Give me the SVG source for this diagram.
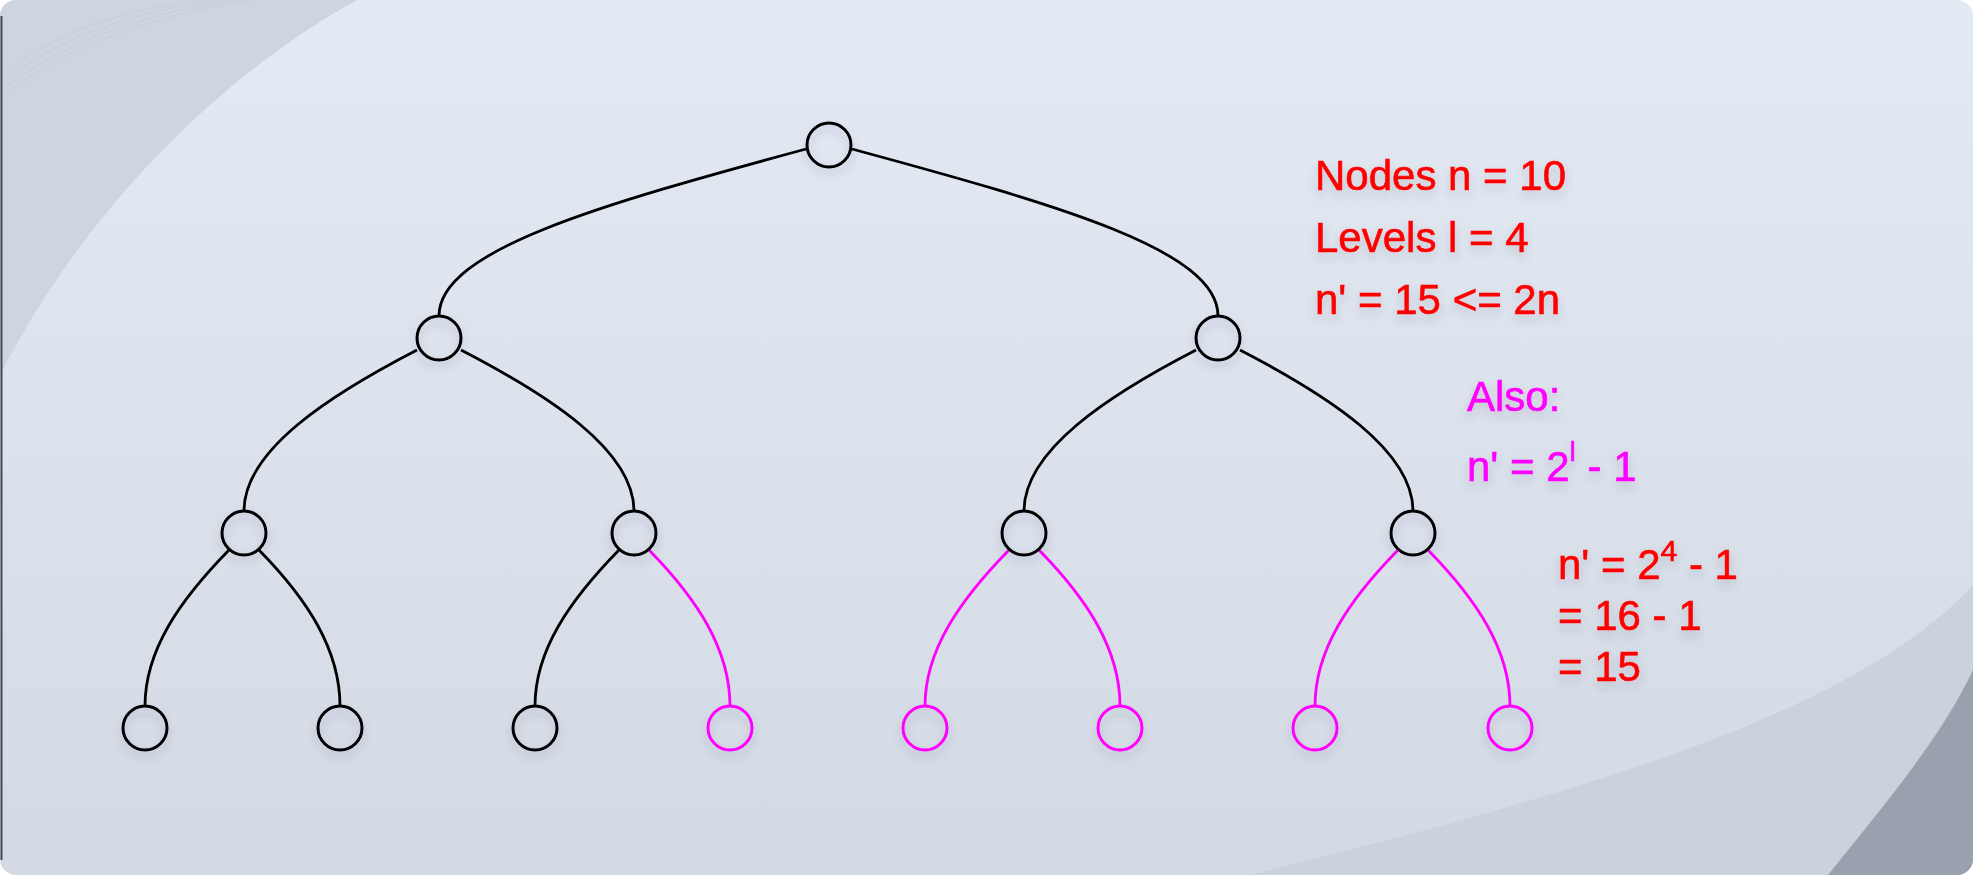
<svg xmlns="http://www.w3.org/2000/svg" width="1973" height="875" viewBox="0 0 1973 875">
<defs>
<linearGradient id="bg" x1="0" y1="0" x2="0" y2="1">
<stop offset="0" stop-color="#e4eaf4"/>
<stop offset="1" stop-color="#d4dae4"/>
</linearGradient>
<clipPath id="card"><rect x="0" y="0" width="1973" height="875" rx="16" ry="16"/></clipPath>
<filter id="sh" x="-20%" y="-20%" width="140%" height="160%">
<feDropShadow dx="0" dy="5" stdDeviation="5" flood-color="#334" flood-opacity="0.2"/>
</filter>
</defs>
<style>
.e{fill:none;stroke:#000;stroke-width:2.8}
.m{stroke:#ff00ff}
.n{fill:none;stroke:#000;stroke-width:3}
.nm{fill:none;stroke:#ff00ff;stroke-width:3}
.t{font-family:"Liberation Sans",Arial,sans-serif;font-size:42px;stroke-width:0.6}
.red{fill:#ff0000;stroke:#ff0000}
.mag{fill:#ff00ff;stroke:#ff00ff}
</style>
<rect width="1973" height="875" fill="#ffffff"/>
<g id="background" clip-path="url(#card)">
<rect x="0" y="0" width="1973" height="875" fill="url(#bg)"/>
<path d="M357,0 C230,70 90,200 0,375 L0,0 Z" fill="#cfd5df"/>
<g fill="none" stroke="#c4cbd6" stroke-width="1" opacity="0.7">
<path d="M5,95 C60,50 150,15 250,0"/>
<path d="M5,88 C60,45 145,12 235,0"/>
<path d="M5,80 C55,40 135,10 220,0"/>
<path d="M5,72 C50,35 125,8 205,0"/>
</g>
<path d="M1250,875 C1550,800 1850,720 1973,585 L1973,875 Z" fill="#cbd2dc"/>
<path d="M1828,875 C1880,810 1940,740 1973,670 L1973,875 Z" fill="#9aa0ad"/>
<path d="M1.5,16 L1.5,860" stroke="#444a55" stroke-width="2"/>
</g>
<g id="connectors">
<path class="e" d="M806,149 C600,205 439,250 439,316"/>
<path class="e" d="M852,149 C1058,205 1218,250 1218,316"/>
<path class="e" d="M417,350 C330,395 244,450 244,511"/>
<path class="e" d="M461,350 C548,395 634,450 634,511"/>
<path class="e" d="M1196,350 C1109,395 1024,450 1024,511"/>
<path class="e" d="M1240,350 C1327,395 1413,450 1413,511"/>
<path class="e" d="M229,550 C180,600 145,650 145,706"/>
<path class="e" d="M259,550 C308,600 340,650 340,706"/>
<path class="e" d="M619,550 C570,600 535,650 535,706"/>
<path class="e m" d="M649,550 C698,600 730,650 730,706"/>
<path class="e m" d="M1009,550 C960,600 925,650 925,706"/>
<path class="e m" d="M1039,550 C1088,600 1120,650 1120,706"/>
<path class="e m" d="M1398,550 C1349,600 1315,650 1315,706"/>
<path class="e m" d="M1428,550 C1477,600 1510,650 1510,706"/>
</g>
<g id="nodes" filter="url(#sh)">
<g id="root"><circle class="n" cx="829" cy="145" r="22"/></g>
<g id="n-a"><circle class="n" cx="439" cy="338" r="22"/></g>
<g id="n-b"><circle class="n" cx="1218" cy="338" r="22"/></g>
<g id="n-a1"><circle class="n" cx="244" cy="533" r="22"/></g>
<g id="n-a2"><circle class="n" cx="634" cy="533" r="22"/></g>
<g id="n-b1"><circle class="n" cx="1024" cy="533" r="22"/></g>
<g id="n-b2"><circle class="n" cx="1413" cy="533" r="22"/></g>
<g id="leaf1"><circle class="n" cx="145" cy="728" r="22"/></g>
<g id="leaf2"><circle class="n" cx="340" cy="728" r="22"/></g>
<g id="leaf3"><circle class="n" cx="535" cy="728" r="22"/></g>
<g id="leaf4"><circle class="nm" cx="730" cy="728" r="22"/></g>
<g id="leaf5"><circle class="nm" cx="925" cy="728" r="22"/></g>
<g id="leaf6"><circle class="nm" cx="1120" cy="728" r="22"/></g>
<g id="leaf7"><circle class="nm" cx="1315" cy="728" r="22"/></g>
<g id="leaf8"><circle class="nm" cx="1510" cy="728" r="22"/></g>
</g>
<g id="labels" filter="url(#sh)">
<text class="t red" x="1315" y="190">Nodes n = 10</text>
<text class="t red" x="1315" y="252">Levels l = 4</text>
<text class="t red" x="1315" y="314">n' = 15 &lt;= 2n</text>
<text class="t mag" x="1467" y="411">Also:</text>
<text class="t mag" x="1467" y="481">n' = 2<tspan font-size="28" dy="-20">l</tspan><tspan dy="20"> - 1</tspan></text>
<text class="t red" x="1558" y="579">n' = 2<tspan font-size="30" dy="-18">4</tspan><tspan dy="18"> - 1</tspan></text>
<text class="t red" x="1558" y="630">= 16 - 1</text>
<text class="t red" x="1558" y="681">= 15</text>
</g>
</svg>
